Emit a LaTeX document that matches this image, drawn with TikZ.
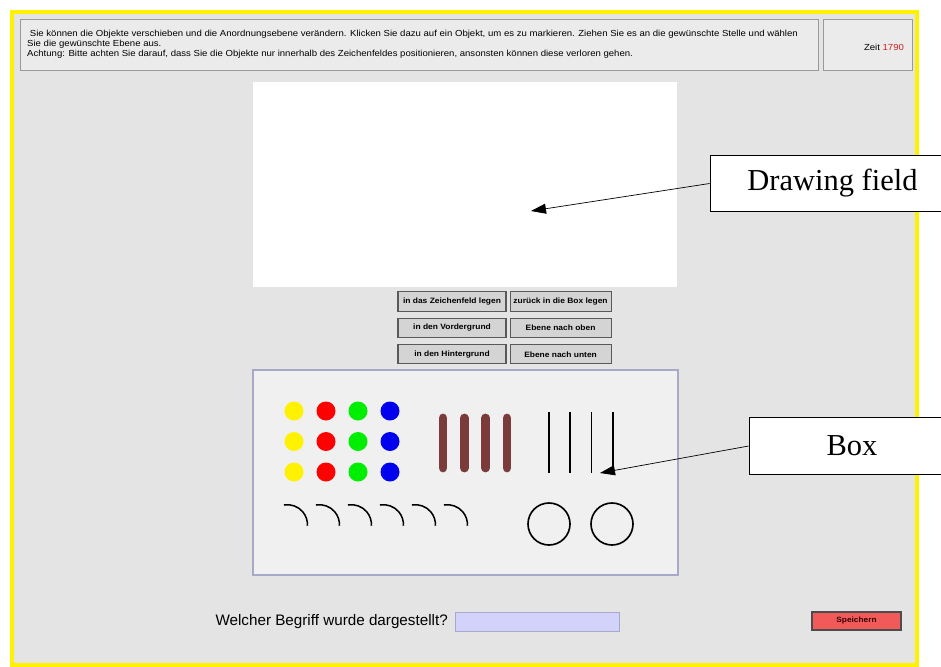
\documentclass[tikz,border=0pt]{standalone}
\usepackage{fontspec}
\setmainfont{Liberation Serif}
\newfontfamily\uifont[FakeStretch=1.09]{Liberation Sans}
\newfontfamily\labelfont{Liberation Sans}
\usetikzlibrary{arrows.meta,positioning}
\definecolor{screen}{HTML}{E4E4E4}
\definecolor{panel}{HTML}{EBEBEB}
\definecolor{boxline}{HTML}{A8A8C8}
\definecolor{boxfill}{HTML}{F0F0F0}
\definecolor{stick}{HTML}{7B3B3B}
\definecolor{inputfill}{HTML}{D2D2FA}
\definecolor{savefill}{HTML}{F25A5A}
\definecolor{timered}{HTML}{D02020}
\definecolor{dotgreen}{HTML}{00EE00}
\definecolor{dotblue}{HTML}{0000EE}

\begin{document}
\begin{tikzpicture}[x=0.03cm,y=-0.03cm,
    pane/.style={draw=black!40,fill=panel,line width=0.8pt,inner sep=0pt},
    btn/.style={draw=black!65,line width=0.9pt,fill=black!17,inner sep=0pt,
        minimum height=0.58cm,font=\uifont\bfseries\fontsize{6.6}{7}\selectfont},
    callout/.style={draw,fill=white,line width=0.6pt,minimum height=1.7cm,
        font=\fontsize{26}{28}\selectfont},
    pointer/.style={-{Triangle[length=0.45cm,width=0.3cm]},line width=0.6pt}]
\useasboundingbox (0,0) rectangle (941,667);
\clip (0,0) rectangle (941,667);
% screen with yellow frame
\draw[yellow,line width=3.5pt,fill=screen] (12,12) rectangle (917,665);
\node[pane,minimum width=23.94cm,minimum height=1.53cm] (head) at (419,44.5) {};
\node[pane,minimum width=2.67cm,minimum height=1.53cm] (clock) at (867.5,44.5) {};
\node[anchor=west,align=left,inner sep=0pt,font=\uifont\fontsize{7.5}{8.4}\selectfont]
    (hint) at (27,44) {\ Sie können die Objekte verschieben und die Anordnungsebene verändern. Klicken Sie dazu auf ein Objekt, um es zu markieren. Ziehen Sie es an die gewünschte Stelle und wählen\\
    Sie die gewünschte Ebene aus.\\
    Achtung: Bitte achten Sie darauf, dass Sie die Objekte nur innerhalb des Zeichenfeldes positionieren, ansonsten können diese verloren gehen.};
\node[inner sep=0pt,font=\uifont\fontsize{7.5}{8}\selectfont] (time) at (884,47) {Zeit \textcolor{timered}{1790}};
% drawing field
\node[fill=white,inner sep=0pt,minimum width=12.72cm,minimum height=6.15cm] (field) at (465,184.5) {};
% buttons
\node[btn,minimum width=3.24cm] (b1) at (452,301.5) {in das Zeichenfeld legen};
\node[btn,minimum width=3.03cm,right=0.09cm of b1] (b2) {zurück in die Box legen};
\node[btn,minimum width=3.24cm,below=0.18cm of b1] (b3) {in den Vordergrund};
\node[btn,minimum width=3.03cm,right=0.09cm of b3] (b4) {Ebene nach oben};
\node[btn,minimum width=3.24cm,below=0.18cm of b3] (b5) {in den Hintergrund};
\node[btn,minimum width=3.03cm,right=0.09cm of b5] (b6) {Ebene nach unten};
% box with objects
\node[draw=boxline,fill=boxfill,line width=1pt,inner sep=0pt,minimum width=12.75cm,minimum height=6.15cm] (box) at (465.5,472.5) {};
\foreach \c [count=\i] in {yellow,red,dotgreen,dotblue}
  \foreach \j in {0,1,2}
    \fill[\c] (262+32*\i,411+30.5*\j) circle[radius=9.5];
\foreach \k in {0,...,3}{
  \draw[stick,line width=7.5pt,line cap=round] (443+21.3*\k,418) -- (443+21.3*\k,468);
  \draw[line width=1.5pt] (549+21.3*\k,412) -- (549+21.3*\k,473);}
\foreach \k in {0,...,5}
  \draw[line width=1.3pt] (284+32*\k,505) arc[start angle=-100,end angle=3,radius=20];
\draw[line width=1.4pt] (549,524) circle[radius=21] (612,524) circle[radius=21];
% answer line
\node[font=\labelfont\fontsize{13}{15}\selectfont,anchor=east,inner sep=0pt] (ask) at (448,622) {Welcher Begriff wurde dargestellt?};
\node[draw=boxline,fill=inputfill,line width=0.8pt,minimum width=4.92cm,minimum height=0.57cm,right=0.21cm of ask] (answer) {};
\node[draw=black!70,fill=savefill,line width=0.9pt,minimum width=2.67cm,minimum height=0.54cm,inner sep=0pt,
    font=\uifont\bfseries\fontsize{6.5}{7}\selectfont,text=black!80!red] (save) at (856.5,621) {Speichern};
% callouts
\node[callout,minimum width=7.35cm] (fieldlabel) at (832.5,183.5) {Drawing field};
\node[callout,minimum width=6.18cm] (boxlabel) at (852,446) {Box};
\coordinate (fieldtip) at (531,211);
\coordinate (boxtip) at (600,473);
\draw[pointer] (fieldlabel.west) -- (fieldtip);
\draw[pointer] (boxlabel.west) -- (boxtip);
\end{tikzpicture}
\end{document}
